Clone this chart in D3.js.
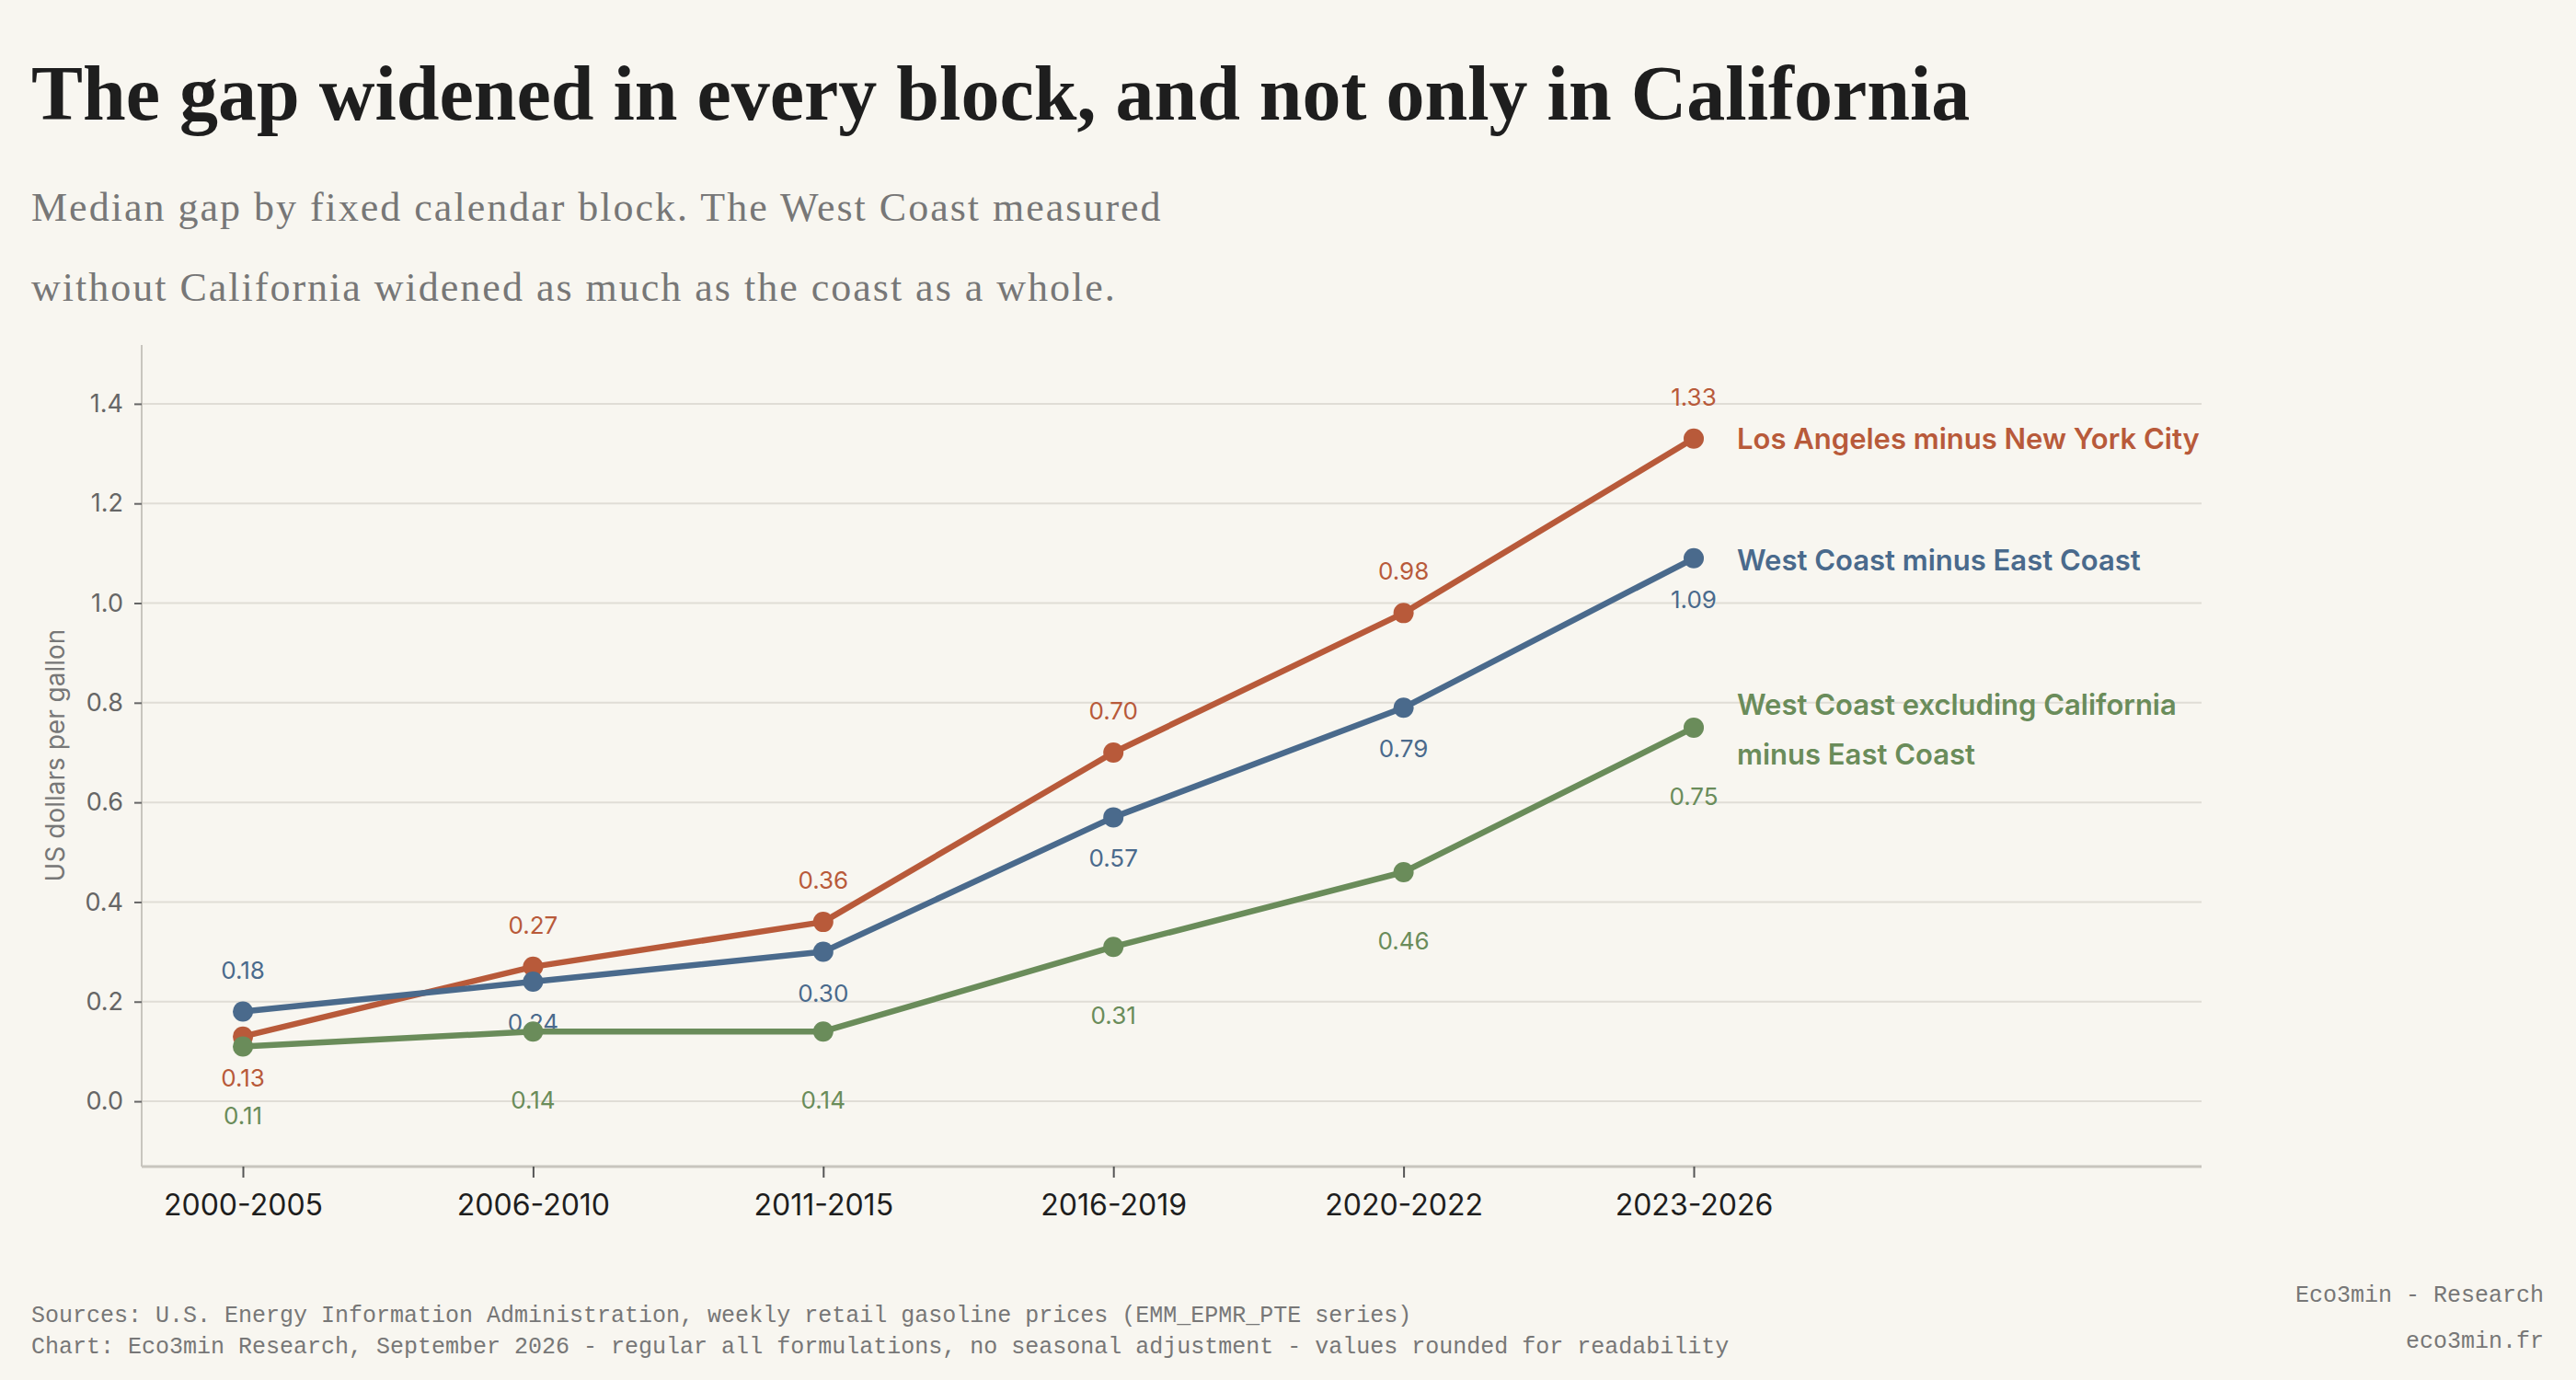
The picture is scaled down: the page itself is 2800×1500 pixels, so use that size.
<!DOCTYPE html>
<html><head><meta charset="utf-8">
<script src="https://cdn.jsdelivr.net/npm/d3@7"></script>
<style>body{margin:0;background:#f8f6f0}svg{display:block}</style></head>
<body><svg id="c" width="2800" height="1500"></svg>
<script>
const categories=["2000-2005","2006-2010","2011-2015","2016-2019","2020-2022","2023-2026"];
const laNyc=[0.13,0.27,0.36,0.70,0.98,1.33];
const westEast=[0.18,0.24,0.30,0.57,0.79,1.09];
const westExCaEast=[0.11,0.14,0.14,0.31,0.46,0.75];
const yTicks=[0,0.2,0.4,0.6,0.8,1.0,1.2,1.4];
const series=[
 {name:["Los Angeles minus New York City"],values:laNyc,color:"#b85a3a",pos:[1,-1,-1,-1,-1,-1],ly:[477]},
 {name:["West Coast minus East Coast"],values:westEast,color:"#4a6a8c",pos:[-1,1,1,1,1,1],ly:[609]},
 {name:["West Coast excluding California","minus East Coast"],values:westExCaEast,color:"#6a8c5a",pos:[2,2,2,2,2,2],ly:[766,820]}
];
const svg=d3.select("#c");
svg.append("rect").attr("width",2800).attr("height",1500).attr("fill","#f8f6f0");
const L=154,R=2393,T=375,B=1268;
const x=d3.scalePoint().domain(categories).range([264,1841]);
const y=d3.scaleLinear().domain([-0.131,1.518]).range([B,T]);
svg.append("text").attr("x",34).attr("y",130).attr("font-family","Liberation Serif").attr("font-weight","bold").attr("font-size",84).attr("fill","#1e1e1e").text("The gap widened in every block, and not only in California");
["Median gap by fixed calendar block. The West Coast measured","without California widened as much as the coast as a whole."].forEach((t,i)=>
 svg.append("text").attr("x",34).attr("y",240+i*87).attr("font-family","Liberation Serif").attr("font-size",44).attr("letter-spacing",2).attr("fill","#777").text(t));
svg.append("g").selectAll("line").data(yTicks).join("line").attr("x1",L).attr("x2",R).attr("y1",d=>y(d)).attr("y2",d=>y(d)).attr("stroke","#e0ddd6").attr("stroke-width",2);
const ya=svg.append("g").attr("transform",`translate(${L},0)`).call(d3.axisLeft(y).tickValues(yTicks).tickFormat(d3.format(".1f")).tickSize(8).tickPadding(12));
ya.select(".domain").attr("stroke","#c8c5be").attr("stroke-width",2).attr("d",`M0,${T}V${B}`);
ya.selectAll(".tick line").attr("stroke","#666").attr("stroke-width",2);
ya.selectAll("text").attr("font-family","Inter").attr("font-size",27).attr("fill","#666");
const xa=svg.append("g").attr("transform",`translate(0,${B})`).call(d3.axisBottom(x).tickSize(12).tickPadding(18));
xa.select(".domain").attr("stroke","#c8c5be").attr("stroke-width",3).attr("d",`M${L},0H${R}`);
xa.selectAll(".tick line").attr("stroke","#555").attr("stroke-width",2);
xa.selectAll("text").attr("font-family","Inter").attr("font-size",32).attr("fill","#1e1e1e");
svg.append("text").attr("transform",`translate(70,821) rotate(-90)`).attr("text-anchor","middle").attr("font-family","Inter").attr("font-size",28).attr("fill","#777").text("US dollars per gallon");
const line=d3.line().x((d,i)=>x(categories[i])).y(d=>y(d));
const off={"-1":-45,"1":45,"2":75};
series.forEach(s=>{
 svg.append("path").attr("d",line(s.values)).attr("fill","none").attr("stroke",s.color).attr("stroke-width",6.5).attr("stroke-linejoin","round");
 svg.append("g").selectAll("circle").data(s.values).join("circle").attr("cx",(d,i)=>x(categories[i])).attr("cy",d=>y(d)).attr("r",11).attr("fill",s.color);
 svg.append("g").selectAll("text").data(s.values).join("text").attr("x",(d,i)=>x(categories[i])).attr("y",(d,i)=>y(d)+off[s.pos[i]]).attr("dy","0.35em").attr("text-anchor","middle").attr("font-family","Inter").attr("font-size",26).attr("fill",s.color).text(d=>d.toFixed(2));
 s.name.forEach((n,j)=>svg.append("text").attr("x",1888).attr("y",s.ly[j]).attr("dy","0.35em").attr("font-family","Inter").attr("font-weight",600).attr("font-size",31).attr("fill",s.color).text(n));
});
const mono={"font-family":"Liberation Mono","font-size":25,"fill":"#777"};
function t(xx,yy,txt,anchor){const e=svg.append("text").attr("x",xx).attr("y",yy).attr("text-anchor",anchor||"start").text(txt);for(const k in mono)e.attr(k,mono[k]);}
t(34,1437,"Sources: U.S. Energy Information Administration, weekly retail gasoline prices (EMM_EPMR_PTE series)");
t(34,1471,"Chart: Eco3min Research, September 2026 - regular all formulations, no seasonal adjustment - values rounded for readability");
t(2765,1415,"Eco3min - Research","end");
t(2765,1465,"eco3min.fr","end");
</script></body></html>
